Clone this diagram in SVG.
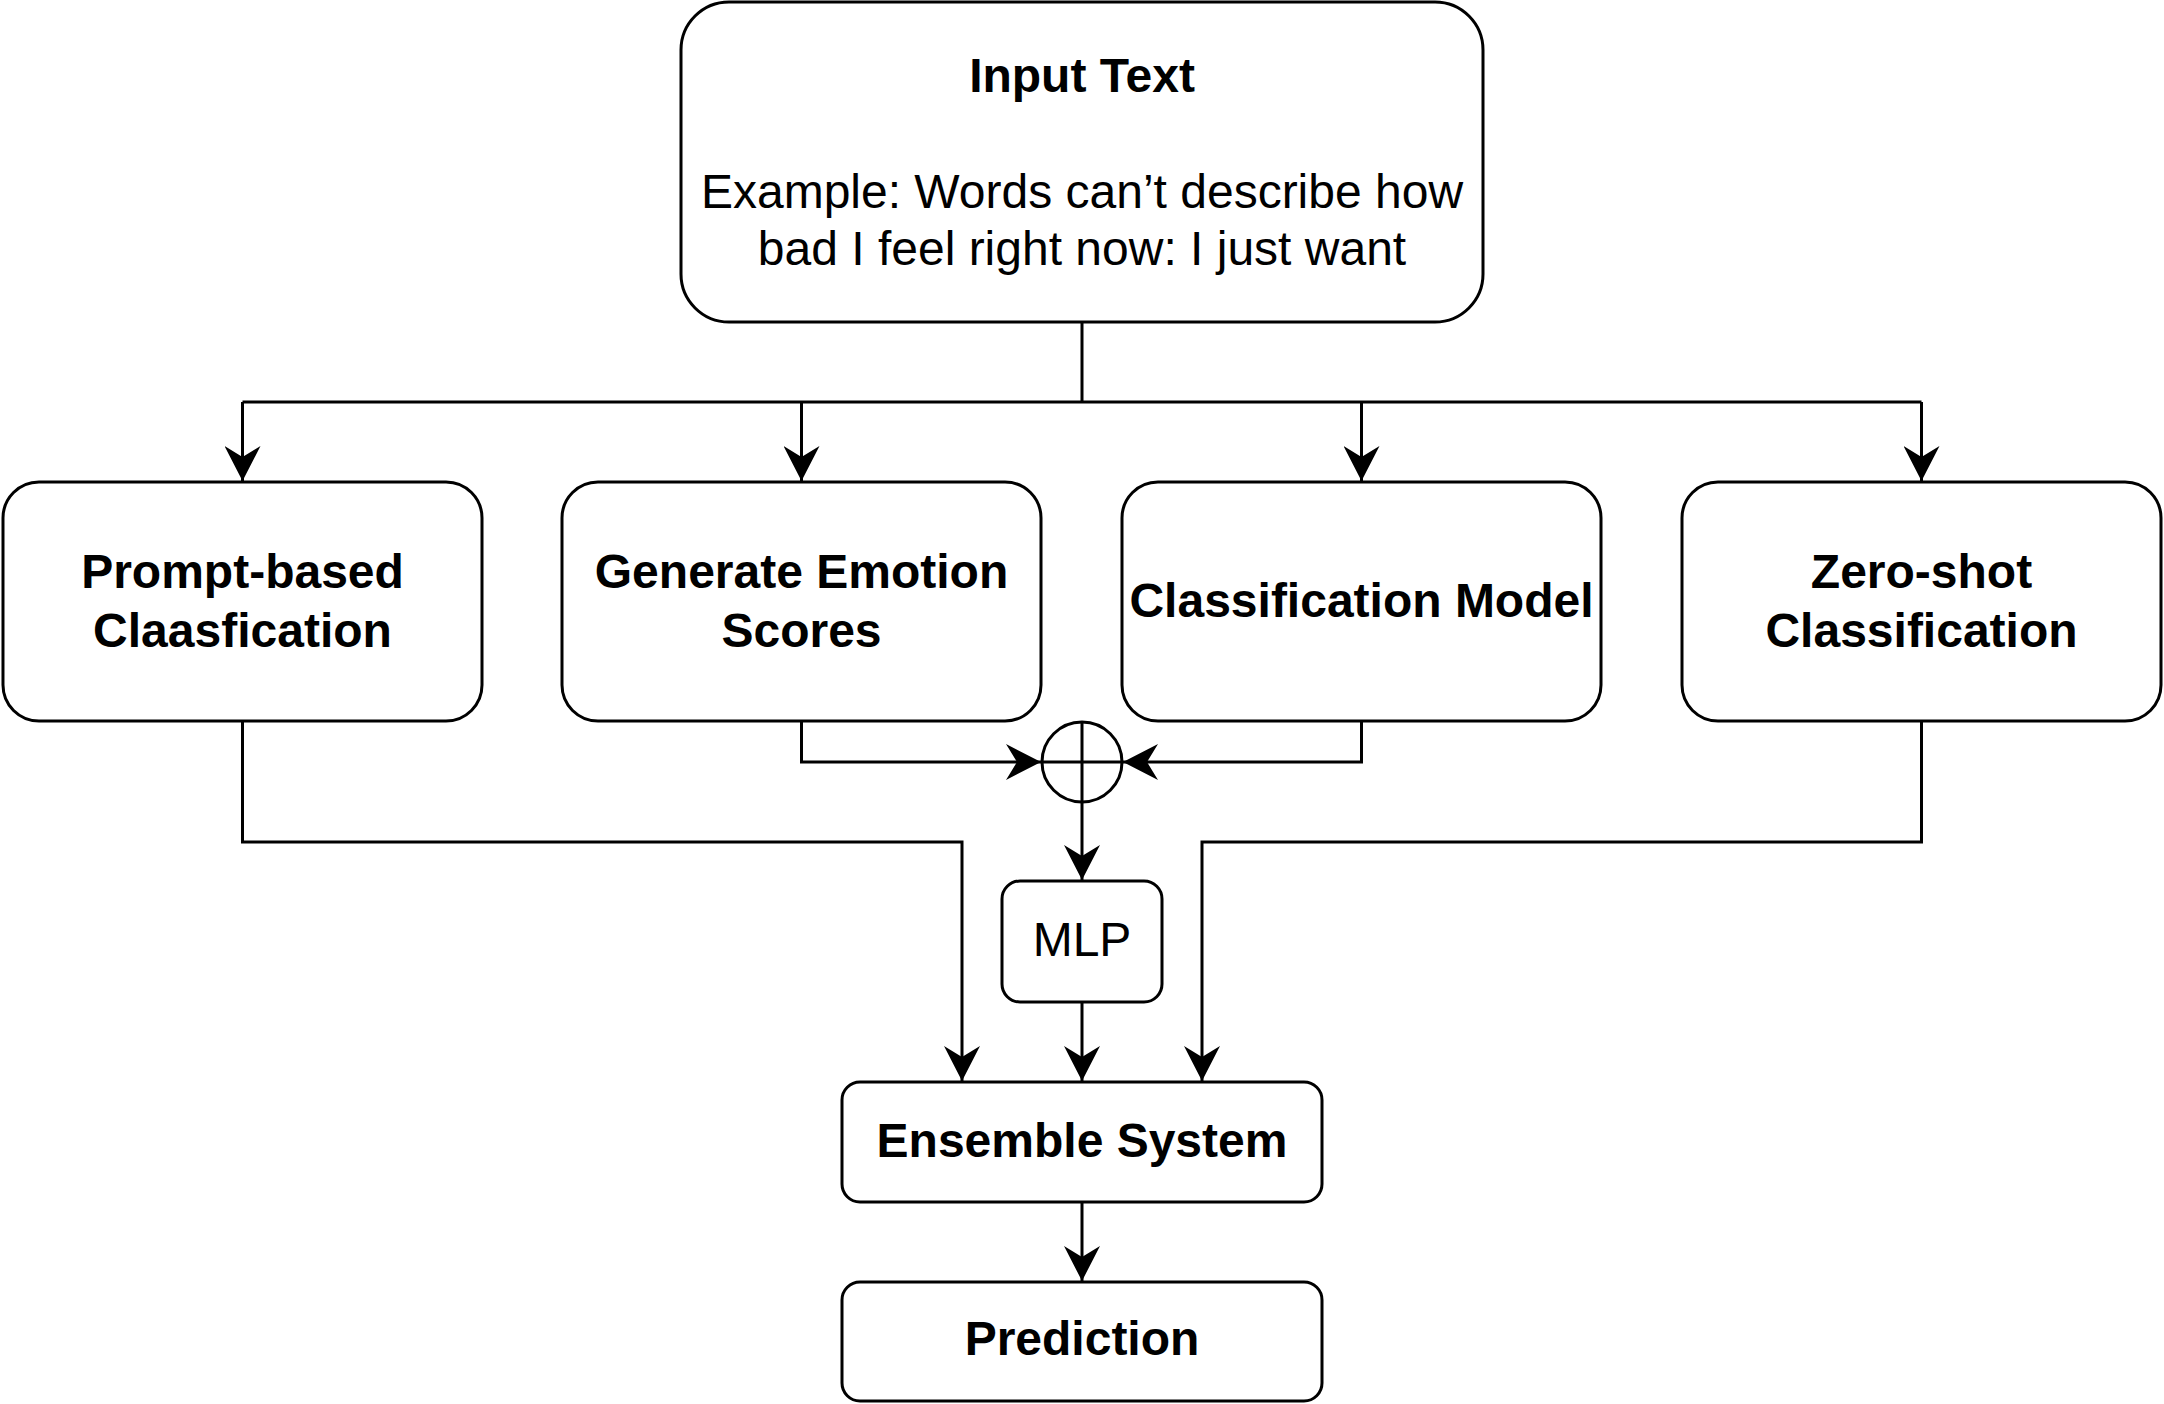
<svg xmlns="http://www.w3.org/2000/svg" width="2164" height="1404" viewBox="0 0 2164 1404">
<style>
.box{fill:#fff;stroke:#000;stroke-width:3}
.ln{fill:none;stroke:#000;stroke-width:3}
text{font-family:"Liberation Sans",Arial,Helvetica,sans-serif;font-size:48px;fill:#000;text-anchor:middle}
.b{font-weight:bold}
</style>
<defs>
<marker id="arr" viewBox="0 0 36 36" refX="35" refY="18" markerWidth="36" markerHeight="36" markerUnits="userSpaceOnUse" orient="auto">
<path d="M35,18 L0,0 L11,18 L0,36 Z" fill="#000"/>
</marker>
</defs>
<rect width="2164" height="1404" fill="#fff"/>
<g id="connectors">
<path class="ln" d="M1082,322 V402"/>
<path class="ln" d="M242.5,402 H1921.5"/>
<path class="ln" d="M242.5,402 V481" marker-end="url(#arr)"/>
<path class="ln" d="M801.5,402 V481" marker-end="url(#arr)"/>
<path class="ln" d="M1361.5,402 V481" marker-end="url(#arr)"/>
<path class="ln" d="M1921.5,402 V481" marker-end="url(#arr)"/>
<path class="ln" d="M801.5,721 V762 H1041" marker-end="url(#arr)"/>
<path class="ln" d="M1361.5,721 V762 H1123" marker-end="url(#arr)"/>
<path class="ln" d="M1082,802 V880" marker-end="url(#arr)"/>
<path class="ln" d="M242.5,721 V842 H962 V1081" marker-end="url(#arr)"/>
<path class="ln" d="M1921.5,721 V842 H1202 V1081" marker-end="url(#arr)"/>
<path class="ln" d="M1082,1002 V1081" marker-end="url(#arr)"/>
<path class="ln" d="M1082,1202 V1281" marker-end="url(#arr)"/>
</g>
<g id="input">
<rect class="box" x="681" y="2" width="802" height="320" rx="48"/>
<text class="b" x="1082" y="92">Input Text</text>
<text x="1082" y="208">Example: Words can’t describe how</text>
<text x="1082" y="265">bad I feel right now: I just want</text>
</g>
<g id="prompt">
<rect class="box" x="3" y="482" width="479" height="239" rx="36"/>
<text class="b" x="242.5" y="588">Prompt-based</text>
<text class="b" x="242.5" y="647">Claasfication</text>
</g>
<g id="emotion">
<rect class="box" x="562" y="482" width="479" height="239" rx="36"/>
<text class="b" x="801.5" y="588">Generate Emotion</text>
<text class="b" x="801.5" y="647">Scores</text>
</g>
<g id="classmodel">
<rect class="box" x="1122" y="482" width="479" height="239" rx="36"/>
<text class="b" x="1361.5" y="617">Classification Model</text>
</g>
<g id="zeroshot">
<rect class="box" x="1682" y="482" width="479" height="239" rx="36"/>
<text class="b" x="1921.5" y="588">Zero-shot</text>
<text class="b" x="1921.5" y="647">Classification</text>
</g>
<g id="sum">
<circle class="box" cx="1082" cy="762" r="40"/>
<path class="ln" d="M1042,762 H1122 M1082,722 V802"/>
</g>
<g id="mlp">
<rect class="box" x="1002" y="881" width="160" height="121" rx="18"/>
<text x="1082" y="956">MLP</text>
</g>
<g id="ensemble">
<rect class="box" x="842" y="1082" width="480" height="120" rx="18"/>
<text class="b" x="1082" y="1157">Ensemble System</text>
</g>
<g id="prediction">
<rect class="box" x="842" y="1282" width="480" height="119" rx="18"/>
<text class="b" x="1082" y="1355">Prediction</text>
</g>
</svg>
